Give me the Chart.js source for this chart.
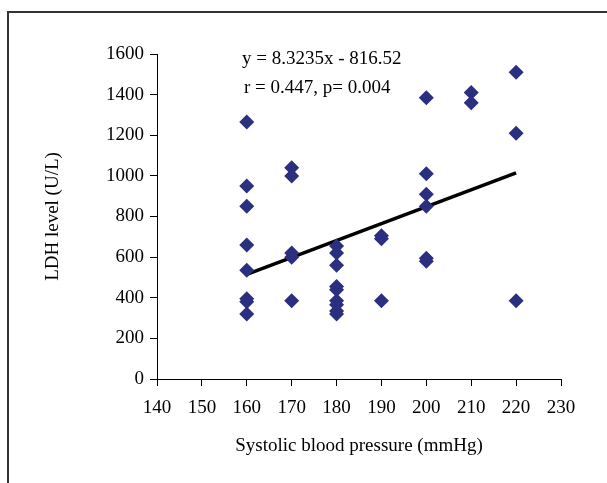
<!DOCTYPE html>
<html>
<head>
  <title>LDH vs systolic blood pressure</title>
  <script src="https://cdn.jsdelivr.net/npm/chart.js"></script>
  <style>
    html, body { margin: 0; padding: 0; background: #fff; }
    #wrap { width: 607px; height: 483px; }
  </style>
</head>
<body>
  <div id="wrap"><canvas id="chart" width="607" height="483"></canvas></div>
  <script>
    // readings, grouped by systolic pressure
    const sbp = [160, 160, 160, 160, 160, 160, 160, 160,
                 170, 170, 170, 170, 170,
                 180, 180, 180, 180, 180, 180, 180, 180, 180,
                 190, 190, 190,
                 200, 200, 200, 200, 200, 200,
                 210, 210,
                 220, 220, 220];
    const ldh = [1265, 950, 850, 660, 535, 395, 380, 320,
                 1040, 1000, 620, 600, 385,
                 655, 620, 560, 455, 440, 385, 365, 335, 320,
                 705, 690, 385,
                 1385, 1010, 910, 850, 595, 580,
                 1410, 1360,
                 1510, 1210, 385];

    const slope = 8.3235;
    const intercept = -816.52;
    const fitRange = [160, 220];
    const notes = ['y = 8.3235x - 816.52', 'r = 0.447, p= 0.004'];

    const xTicks = [140, 150, 160, 170, 180, 190, 200, 210, 220, 230];
    const yTicks = [0, 200, 400, 600, 800, 1000, 1200, 1400, 1600];

    const points = sbp.map((x, i) => ({ x: x, y: ldh[i] }));
    const fitLine = fitRange.map(x => ({ x: x, y: slope * x + intercept }));

    const serif = 'Liberation Serif, Times New Roman, serif';

    const frame = {
      id: 'frame',
      afterDraw(chart) {
        const ctx = chart.ctx;
        ctx.save();
        ctx.strokeStyle = '#333';
        ctx.lineWidth = 2;
        ctx.beginPath();
        ctx.moveTo(607, 12);
        ctx.lineTo(8, 12);
        ctx.lineTo(8, 483);
        ctx.stroke();
        // regression text
        const area = chart.chartArea;
        ctx.fillStyle = '#000';
        ctx.font = '19px ' + serif;
        ctx.textBaseline = 'alphabetic';
        ctx.fillText(notes[0], area.left + 85, area.top + 10);
        ctx.fillText(notes[1], area.left + 87, area.top + 39);
        ctx.restore();
      }
    };

    new Chart(document.getElementById('chart'), {
      type: 'scatter',
      data: {
        datasets: [{
          data: points,
          pointStyle: 'rectRot',
          pointRadius: 7.5,
          backgroundColor: '#2B2F7F',
          borderColor: '#2B2F7F',
          borderWidth: 0
        }, {
          type: 'line',
          data: fitLine,
          borderColor: '#000',
          borderWidth: 3.5,
          pointRadius: 0,
          fill: false
        }]
      },
      options: {
        responsive: false,
        animation: false,
        layout: { padding: { left: 38, top: 54, right: 46, bottom: 22 } },
        plugins: { legend: { display: false }, tooltip: { enabled: false } },
        scales: {
          x: {
            type: 'linear',
            min: 140, max: 230,
            afterBuildTicks: s => { s.ticks = xTicks.map(v => ({ value: v })); },
            afterFit: s => { s.height = 82; },
            grid: { drawOnChartArea: false, drawTicks: true, tickLength: 7, color: '#000' },
            border: { color: '#000', width: 1 },
            ticks: { color: '#000', font: { family: serif, size: 19 }, padding: 11, maxRotation: 0,
                     callback: v => String(v) },
            title: { display: true, text: 'Systolic blood pressure (mmHg)', color: '#000',
                     font: { family: serif, size: 19 } }
          },
          y: {
            min: 0, max: 1600,
            afterBuildTicks: s => { s.ticks = yTicks.map(v => ({ value: v })); },
            afterFit: s => { s.width = 119; },
            grid: { drawOnChartArea: false, drawTicks: true, tickLength: 7, color: '#000' },
            border: { color: '#000', width: 1 },
            ticks: { color: '#000', font: { family: serif, size: 19 }, padding: 6,
                     callback: v => String(v) },
            title: { display: true, text: 'LDH level (U/L)', color: '#000',
                     font: { family: serif, size: 19 } }
          }
        }
      },
      plugins: [frame]
    });
  </script>
</body>
</html>
